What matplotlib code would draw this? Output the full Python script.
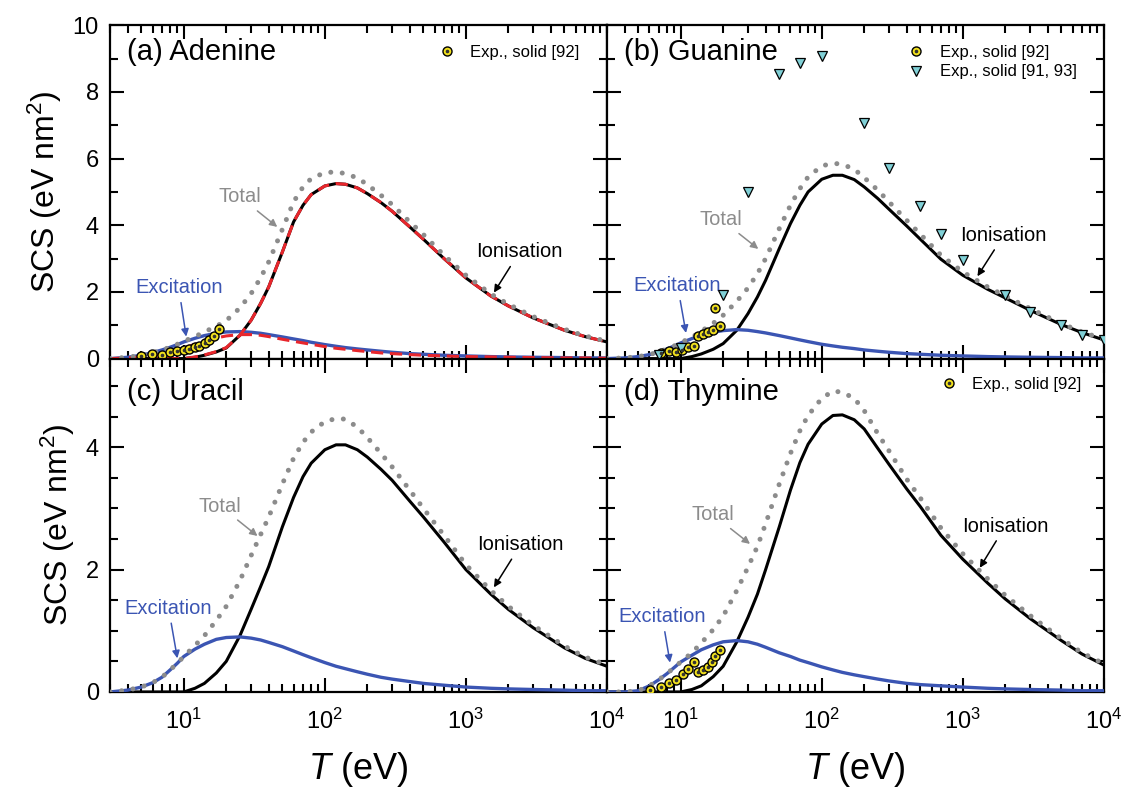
import matplotlib
matplotlib.use('Agg')
import matplotlib.pyplot as plt
from matplotlib.ticker import LogLocator, MultipleLocator, NullFormatter
from matplotlib.legend_handler import HandlerTuple

plt.rcParams['font.family'] = ['Liberation Sans', 'DejaVu Sans']
plt.rcParams['mathtext.fontset'] = 'custom'
plt.rcParams['mathtext.rm'] = 'Liberation Sans'
plt.rcParams['mathtext.it'] = 'Liberation Sans:italic'
plt.rcParams['mathtext.bf'] = 'Liberation Sans:bold'

# energy grid (eV)
T = [3, 4, 5, 6, 7, 8, 9, 10, 12, 14, 17, 20, 25, 30, 35, 40, 50, 60, 70, 80,
     100, 120, 140, 170, 200, 250, 300, 400, 500, 700, 1000, 1500, 2000, 3000,
     5000, 7000, 10000]

# (a) adenine
ion_a = [0, 0, 0, 0, 0, 0, 0, 0, 0.04, 0.1, 0.2, 0.32, 0.7, 1.15, 1.65, 2.15,
         3.2, 4.1, 4.6, 4.92, 5.18, 5.25, 5.23, 5.12, 4.95, 4.68, 4.42, 3.95,
         3.58, 3.0, 2.42, 1.88, 1.58, 1.22, 0.85, 0.66, 0.5]
exc_a = [0.0, 0.04, 0.1, 0.18, 0.26, 0.34, 0.42, 0.5, 0.61, 0.69, 0.76, 0.8,
         0.81, 0.79, 0.76, 0.72, 0.65, 0.59, 0.54, 0.49, 0.42, 0.37, 0.33, 0.29,
         0.26, 0.22, 0.19, 0.15, 0.13, 0.1, 0.08, 0.06, 0.05, 0.04, 0.03, 0.02, 0.02]
tot_a = [0.0, 0.04, 0.1, 0.18, 0.26, 0.34, 0.43, 0.52, 0.66, 0.8, 0.97, 1.14,
         1.52, 1.95, 2.42, 2.9, 3.88, 4.7, 5.15, 5.4, 5.58, 5.6, 5.55, 5.42,
         5.22, 4.9, 4.62, 4.1, 3.72, 3.1, 2.5, 1.94, 1.63, 1.26, 0.88, 0.68, 0.52]
ion_a_red = [0, 0, 0, 0, 0, 0, 0, 0, 0.05, 0.11, 0.21, 0.33, 0.7, 1.15, 1.65,
             2.15, 3.2, 4.1, 4.6, 4.92, 5.18, 5.25, 5.23, 5.12, 4.95, 4.68,
             4.42, 3.95, 3.58, 3.0, 2.42, 1.88, 1.58, 1.22, 0.85, 0.66, 0.5]
exc_a_red = [0.0, 0.02, 0.05, 0.09, 0.14, 0.2, 0.26, 0.32, 0.43, 0.52, 0.62,
             0.68, 0.72, 0.72, 0.7, 0.66, 0.58, 0.52, 0.47, 0.43, 0.36, 0.31,
             0.28, 0.24, 0.21, 0.17, 0.15, 0.12, 0.1, 0.08, 0.06, 0.05, 0.04,
             0.03, 0.02, 0.02, 0.01]
exp_a_T = [4.95, 5.92, 6.96, 7.93, 8.88, 10.0, 10.97, 11.96, 12.9, 14.06, 15.0, 16.3, 17.8]
exp_a_y = [0.09, 0.15, 0.12, 0.19, 0.22, 0.27, 0.29, 0.35, 0.39, 0.47, 0.55, 0.67, 0.89]

# (b) guanine
ion_b = [0, 0, 0, 0, 0, 0, 0, 0, 0.06, 0.14, 0.28, 0.45, 0.85, 1.35, 1.85, 2.35,
         3.3, 4.05, 4.6, 5.0, 5.38, 5.5, 5.5, 5.37, 5.15, 4.8, 4.48, 3.98, 3.58,
         2.98, 2.5, 2.08, 1.82, 1.45, 1.02, 0.78, 0.56]
exc_b = [0.0, 0.02, 0.06, 0.12, 0.2, 0.29, 0.38, 0.47, 0.6, 0.7, 0.79, 0.84,
         0.87, 0.85, 0.81, 0.77, 0.69, 0.62, 0.56, 0.51, 0.43, 0.38, 0.34, 0.3,
         0.26, 0.22, 0.19, 0.15, 0.13, 0.1, 0.08, 0.06, 0.05, 0.04, 0.03, 0.02, 0.02]
tot_b = [0.0, 0.02, 0.06, 0.12, 0.2, 0.29, 0.38, 0.48, 0.64, 0.82, 1.06, 1.3,
         1.72, 2.12, 2.55, 3.0, 3.9, 4.6, 5.1, 5.45, 5.78, 5.86, 5.83, 5.68,
         5.43, 5.05, 4.7, 4.15, 3.73, 3.1, 2.6, 2.15, 1.88, 1.5, 1.05, 0.8, 0.58]
exp_b_T = [7.2, 8.2, 9.3, 10.2, 11.3, 12.5, 13.2, 14.5, 15.6, 16.9, 18.9, 17.4]
exp_b_y = [0.17, 0.22, 0.19, 0.27, 0.35, 0.39, 0.67, 0.74, 0.79, 0.85, 0.99, 1.52]
exp2_b_T = [7, 10, 20, 30, 50, 70, 100, 200, 300, 500, 700, 1000, 2000, 3000, 5000, 7000, 10000]
exp2_b_y = [0.12, 0.33, 1.92, 4.99, 8.53, 8.86, 9.08, 7.06, 5.73, 4.57, 3.74,
            2.95, 1.92, 1.4, 1.02, 0.72, 0.57]

# (c) uracil
ion_c = [0, 0, 0, 0, 0, 0, 0, 0, 0.06, 0.14, 0.31, 0.5, 0.92, 1.35, 1.72, 2.05,
         2.7, 3.18, 3.52, 3.74, 3.96, 4.04, 4.04, 3.96, 3.84, 3.64, 3.46, 3.12,
         2.86, 2.45, 2.0, 1.6, 1.35, 1.05, 0.72, 0.55, 0.42]
exc_c = [0.0, 0.03, 0.08, 0.15, 0.24, 0.36, 0.47, 0.58, 0.7, 0.78, 0.86, 0.89,
         0.9, 0.88, 0.85, 0.81, 0.74, 0.67, 0.61, 0.56, 0.48, 0.42, 0.38, 0.33,
         0.29, 0.24, 0.21, 0.17, 0.14, 0.11, 0.08, 0.06, 0.05, 0.04, 0.03, 0.02, 0.02]
tot_c = [0.0, 0.03, 0.08, 0.15, 0.24, 0.36, 0.47, 0.58, 0.76, 0.92, 1.17, 1.4,
         1.82, 2.23, 2.57, 2.86, 3.4, 3.82, 4.08, 4.25, 4.42, 4.47, 4.46, 4.33,
         4.16, 3.9, 3.68, 3.3, 3.0, 2.56, 2.08, 1.66, 1.4, 1.09, 0.75, 0.57, 0.44]

# (d) thymine
ion_d = [0, 0, 0, 0, 0, 0, 0, 0, 0.04, 0.1, 0.25, 0.42, 0.82, 1.22, 1.6, 2.0,
         2.7, 3.3, 3.75, 4.05, 4.38, 4.52, 4.53, 4.45, 4.3, 3.98, 3.72, 3.32,
         3.03, 2.56, 2.17, 1.78, 1.52, 1.2, 0.84, 0.62, 0.44]
exc_d = [0.0, 0.0, 0.02, 0.1, 0.2, 0.3, 0.4, 0.49, 0.6, 0.69, 0.77, 0.82, 0.84,
         0.82, 0.78, 0.73, 0.64, 0.58, 0.52, 0.48, 0.41, 0.36, 0.32, 0.28, 0.25,
         0.21, 0.18, 0.14, 0.12, 0.1, 0.08, 0.06, 0.05, 0.04, 0.03, 0.02, 0.02]
tot_d = [0.0, 0.0, 0.02, 0.1, 0.2, 0.3, 0.4, 0.49, 0.64, 0.8, 1.02, 1.24, 1.66,
         2.04, 2.38, 2.75, 3.4, 3.9, 4.27, 4.52, 4.8, 4.92, 4.9, 4.8, 4.6, 4.22,
         3.94, 3.48, 3.17, 2.68, 2.26, 1.85, 1.58, 1.25, 0.87, 0.64, 0.46]
exp_d_T = [6.1, 7.2, 8.2, 9.3, 10.3, 11.3, 12.5, 13.2, 14.3, 15.6, 16.6, 17.6, 18.9]
exp_d_y = [0.04, 0.08, 0.14, 0.2, 0.29, 0.38, 0.49, 0.33, 0.36, 0.41, 0.49, 0.59, 0.69]

BLUE = '#3b55b3'
GREY = '#8c8c8c'
RED = '#e8262c'
YELLOW = '#f2e11e'
CYAN = '#80d0d6'

fig, axes = plt.subplots(2, 2, figsize=(11.31, 7.89), dpi=100,
                         gridspec_kw=dict(hspace=0, wspace=0))
fig.subplots_adjust(left=0.0973, right=0.976, top=0.968, bottom=0.123)


def curves(ax, ion, exc, tot):
    ax.plot(T, ion, color='k', lw=2.2, zorder=3)
    ax.plot(T, exc, color=BLUE, lw=2.4, zorder=3)
    ax.plot(T, tot, color=GREY, lw=3.6, ls=(0, (0.01, 2.3)),
            dash_capstyle='round', zorder=4)


def circles(ax, x, y):
    a, = ax.plot(x, y, ls='none', marker='o', ms=6.5, mfc=YELLOW, mec='k',
                 mew=1.0, zorder=6)
    b, = ax.plot(x, y, ls='none', marker='o', ms=1.6, color='#333333', zorder=7)
    return (a, b)


def label(ax, text, xy, xytext, color):
    ax.annotate(text, xy=xy, xytext=xytext, color=color, fontsize=14.5,
                ha='center', va='center',
                arrowprops=dict(arrowstyle='-|>', color=color, lw=1.1,
                                mutation_scale=11, shrinkA=2, shrinkB=0))


def style(ax, ymax, major, minor):
    ax.set_xscale('log')
    ax.set_xlim(3, 1e4)
    ax.set_ylim(0, ymax)
    ax.yaxis.set_major_locator(MultipleLocator(major))
    ax.yaxis.set_minor_locator(MultipleLocator(minor))
    ax.xaxis.set_major_locator(LogLocator(base=10, numticks=10))
    ax.xaxis.set_minor_locator(LogLocator(base=10, subs=range(2, 10), numticks=20))
    ax.xaxis.set_minor_formatter(NullFormatter())
    ax.tick_params(which='both', direction='in', top=True, right=True,
                   labelsize=17, width=1.5)
    ax.tick_params(which='major', length=10, pad=8)
    ax.tick_params(axis='x', which='major', pad=12)
    ax.tick_params(which='minor', length=6)
    for s in ax.spines.values():
        s.set_linewidth(1.6)


tup = {tuple: HandlerTuple(ndivide=1)}
(ax_a, ax_b), (ax_c, ax_d) = axes

# (a)
curves(ax_a, ion_a, exc_a, tot_a)
ax_a.plot(T, ion_a_red, color=RED, lw=2.2, ls=(0, (4, 2.2)), zorder=3.5)
ax_a.plot(T, exc_a_red, color=RED, lw=2.2, ls=(0, (4, 2.2)), zorder=3.5)
h = circles(ax_a, exp_a_T, exp_a_y)
ax_a.legend([h], ['Exp., solid [92]'], handler_map=tup,
            loc='upper right', bbox_to_anchor=(0.975, 0.985), frameon=False,
            fontsize=12, handletextpad=0.6, handlelength=1.6)
ax_a.text(0.035, 0.895, '(a) Adenine', transform=ax_a.transAxes, fontsize=21)
label(ax_a, 'Total', (46, 3.95), (25, 4.85), GREY)
label(ax_a, 'Excitation', (10.4, 0.66), (9.2, 2.13), BLUE)
label(ax_a, 'Ionisation', (1580, 1.98), (2400, 3.2), 'k')

# (b)
curves(ax_b, ion_b, exc_b, tot_b)
h1 = circles(ax_b, exp_b_T, exp_b_y)
h2, = ax_b.plot(exp2_b_T, exp2_b_y, ls='none', marker='v', ms=7.5, mfc=CYAN,
                mec='k', mew=0.9, zorder=6)
ax_b.legend([h1, h2], ['Exp., solid [92]', 'Exp., solid [91, 93]'],
            handler_map=tup,
            loc='upper right', bbox_to_anchor=(0.975, 0.985), frameon=False,
            fontsize=12, handletextpad=0.6, handlelength=1.6, labelspacing=0.25)
ax_b.text(0.035, 0.895, '(b) Guanine', transform=ax_b.transAxes, fontsize=21)
label(ax_b, 'Total', (35.5, 3.29), (19.4, 4.17), GREY)
label(ax_b, 'Excitation', (10.9, 0.77), (9.5, 2.19), BLUE)
label(ax_b, 'Ionisation', (1270, 2.47), (1950, 3.7), 'k')

# (c)
curves(ax_c, ion_c, exc_c, tot_c)
ax_c.text(0.035, 0.875, '(c) Uracil', transform=ax_c.transAxes, fontsize=21)
label(ax_c, 'Total', (33.3, 2.55), (18.1, 3.04), GREY)
label(ax_c, 'Excitation', (9.0, 0.55), (7.8, 1.37), BLUE)
label(ax_c, 'Ionisation', (1580, 1.71), (2450, 2.41), 'k')

# (d)
curves(ax_d, ion_d, exc_d, tot_d)
h = circles(ax_d, exp_d_T, exp_d_y)
ax_d.legend([h], ['Exp., solid [92]'], handler_map=tup,
            loc='upper right', bbox_to_anchor=(0.985, 0.99), frameon=False,
            fontsize=12, handletextpad=0.6, handlelength=1.6)
ax_d.text(0.035, 0.875, '(d) Thymine', transform=ax_d.transAxes, fontsize=21)
label(ax_d, 'Total', (31, 2.42), (16.9, 2.9), GREY)
label(ax_d, 'Excitation', (8.4, 0.48), (7.4, 1.23), BLUE)
label(ax_d, 'Ionisation', (1320, 2.03), (2000, 2.71), 'k')

for ax in (ax_a, ax_b):
    style(ax, 10, 2, 1)
    ax.tick_params(labelbottom=False)
for ax in (ax_c, ax_d):
    style(ax, 5.45, 2, 0.5)
    ax.set_xlabel('$T$ (eV)', fontsize=26, labelpad=12)
for ax in (ax_b, ax_d):
    ax.tick_params(labelleft=False)
for ax in (ax_a, ax_c):
    ax.set_ylabel('SCS (eV nm$^2$)', fontsize=23, labelpad=6)

fig.savefig('out.png', dpi=100)
